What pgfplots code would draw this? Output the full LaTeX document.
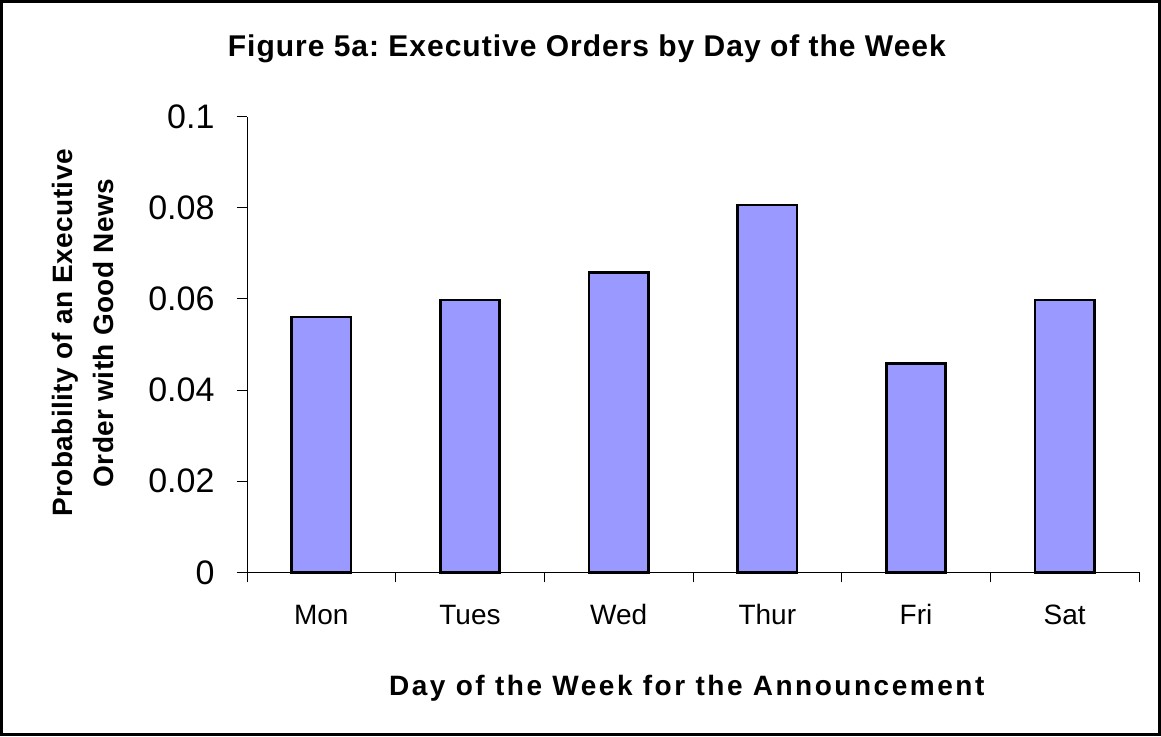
\documentclass[border=0pt]{standalone}
\usepackage{pgfplots}
\pgfplotsset{compat=1.18}
\usepackage{fontspec}
\setmainfont{Liberation Sans}
\newfontfamily\titlefont[LetterSpace=3.3]{Liberation Sans}
\newfontfamily\xlabfont[LetterSpace=9]{Liberation Sans}
\newfontfamily\ylabfont[LetterSpace=1.5]{Liberation Sans}
\definecolor{barblue}{HTML}{9999FF}
\pgfplotstableread{
x val
0 0.0560
1 0.0598
2 0.0658
3 0.0806
4 0.0458
5 0.0598
}\datatable
\begin{document}
\frenchspacing
\begin{tikzpicture}[x=1pt,y=1pt]
\draw[line width=3pt] (1.5,1.5) rectangle (1159.5,734.5);
\begin{axis}[
  scale only axis,
  width=892pt, height=455.6pt,
  at={(247pt,163.7pt)}, anchor=south west,
  xmin=-0.5, xmax=5.5, ymin=0, ymax=0.1,
  axis x line=bottom, axis y line=left,
  axis line style={-, line width=1pt},
  xtick={-0.5,0.5,...,5.5},
  x tick label as interval,
  xticklabels={Mon,Tues,Wed,Thur,Fri,Sat},
  ytick={0,0.02,0.04,0.06,0.08,0.1},
  yticklabels={0,0.02,0.04,0.06,0.08,0.1},
  tick style={black, line width=1pt},
  major tick length=10pt,
  tick align=outside,
  /pgf/number format/assume math mode=true,
  yticklabel style={font=\fontsize{34}{40}\selectfont, xshift=-19pt},
  xticklabel style={font=\fontsize{28}{32}\selectfont, anchor=base, yshift=-41.7pt},
  title={\titlefont\bfseries Figure 5a: Executive Orders by Day of the Week},
  title style={font=\fontsize{30}{34}\selectfont, at={(0.381,1.1196)}, anchor=base},
  xlabel={\xlabfont\bfseries Day of the Week for the Announcement},
  xlabel style={font=\fontsize{28}{32}\selectfont, at={(0.493,-0.2715)}, anchor=base},
  ylabel={\ylabfont\bfseries Probability of an Executive\\\ylabfont\bfseries Order with Good News},
  ylabel style={font=\fontsize{28}{41}\selectfont, align=center, at={(-0.184,0.525)}, anchor=center, rotate=0},
  clip=false,
]
\addplot[ybar, bar width=0.40, fill=barblue, draw=black, line width=2.6pt] table[x=x,y=val] {\datatable};
\end{axis}
\end{tikzpicture}
\end{document}
